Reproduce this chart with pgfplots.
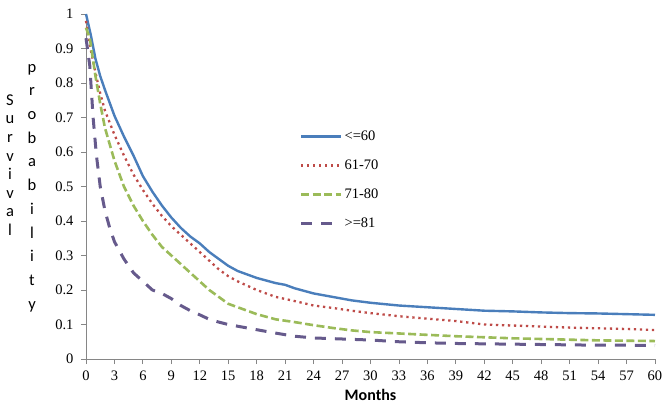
\documentclass[border=0pt]{standalone}
\usepackage{fontspec}
\setmainfont{Liberation Serif}
\newfontfamily\calfont{Carlito}
\usepackage{pgfplots}
\pgfplotsset{compat=1.18}
\definecolor{cblue}{HTML}{4A7EBB}
\definecolor{cred}{HTML}{BE4B48}
\definecolor{cgreen}{HTML}{9BBB59}
\definecolor{cpurple}{HTML}{665A8C}
\definecolor{caxis}{HTML}{868686}
\begin{document}
\begin{tikzpicture}
\begin{axis}[
  scale only axis,
  width=569pt, height=345pt,
  xmin=0, xmax=60, ymin=0, ymax=1,
  axis x line=bottom, axis y line=left,
  axis line style={-, draw=caxis, line width=0.8pt},
  every outer x axis line/.append style={-},
  every outer y axis line/.append style={-},
  xtick={0,3,...,60},
  ytick={0,0.1,0.2,0.3,0.4,0.5,0.6,0.7,0.8,0.9,1},
  yticklabels={0,0.1,0.2,0.3,0.4,0.5,0.6,0.7,0.8,0.9,1},
  tick align=outside,
  major tick length=5pt,
  tick style={draw=caxis, line width=0.8pt},
  /pgf/number format/assume math mode=true,
  ticklabel style={font=\fontsize{14.5}{16}\selectfont},
  xticklabel style={yshift=-3pt},
  yticklabel style={xshift=-4pt},
  xlabel={Months},
  xlabel style={at={(rel axis cs:0.5,0)}, anchor=center, yshift=-36pt, font=\calfont\bfseries\fontsize{16}{18}\selectfont},
  clip=false,
  legend style={draw=none, fill=none, at={(rel axis cs:0.375,0.668)}, anchor=north west,
    font=\fontsize{14.5}{16}\selectfont, row sep=14pt, inner sep=0pt},
  legend cell align=left,
  legend image code/.code={\draw[#1] (0pt,0pt) -- (40pt,0pt);},
]
\addplot[cblue, line width=2.4pt] coordinates {
(0,1.0) (0.5,0.94) (1,0.87) (1.5,0.82) (2,0.78) (3,0.705) (4,0.645) (5,0.59) (6,0.53) (7,0.485) (8,0.445) (9,0.41) (10,0.38) (11,0.355) (12,0.335) (13,0.31) (14,0.29) (15,0.27) (16,0.255) (18,0.235) (20,0.22) (21,0.215) (22,0.205) (24,0.19) (26,0.18) (28,0.17) (30,0.163) (33,0.155) (36,0.15) (39,0.145) (42,0.14) (45,0.138) (48,0.135) (51,0.133) (54,0.132) (57,0.13) (60,0.128)};
\addlegendentry{<=60}
\addplot[cred, line width=2.3pt, dash pattern=on 2.3pt off 3.7pt] coordinates {
(0,0.98) (0.4,0.91) (1,0.83) (1.5,0.77) (2,0.72) (3,0.65) (4,0.59) (5,0.535) (6,0.49) (7,0.45) (8,0.415) (9,0.385) (10,0.36) (11,0.335) (12,0.31) (13,0.285) (14,0.26) (15,0.24) (16,0.225) (18,0.2) (20,0.18) (22,0.168) (24,0.155) (26,0.148) (28,0.14) (30,0.133) (33,0.124) (36,0.117) (39,0.11) (42,0.1) (45,0.097) (48,0.094) (51,0.091) (54,0.089) (57,0.087) (60,0.084)};
\addlegendentry{61-70}
\addplot[cgreen, line width=2.6pt, dash pattern=on 8pt off 3.5pt] coordinates {
(0,0.96) (0.4,0.93) (1,0.82) (1.5,0.74) (2,0.67) (3,0.575) (4,0.5) (5,0.445) (6,0.4) (7,0.36) (8,0.325) (9,0.3) (10,0.275) (11,0.25) (12,0.225) (13,0.2) (14,0.18) (15,0.16) (16,0.15) (18,0.13) (20,0.115) (22,0.107) (24,0.098) (26,0.09) (28,0.083) (30,0.078) (33,0.074) (36,0.07) (39,0.066) (42,0.063) (45,0.06) (48,0.058) (51,0.056) (54,0.054) (57,0.053) (60,0.052)};
\addlegendentry{71-80}
\addplot[cpurple, line width=3pt, dash pattern=on 11pt off 9pt] coordinates {
(0,0.93) (0.4,0.85) (0.75,0.7) (1.1,0.59) (1.5,0.5) (2,0.43) (2.5,0.38) (3,0.34) (4,0.29) (5,0.25) (6,0.225) (7,0.2) (8,0.19) (9,0.175) (10,0.155) (11,0.14) (12,0.128) (13,0.115) (14,0.107) (15,0.1) (16,0.095) (18,0.085) (20,0.075) (22,0.066) (24,0.061) (27,0.058) (30,0.055) (33,0.05) (36,0.047) (39,0.045) (42,0.044) (45,0.043) (48,0.042) (51,0.041) (54,0.04) (57,0.04) (60,0.039)};
\addlegendentry{>=81}
\end{axis}
\node[align=center, font=\calfont\fontsize{16.5}{18.6}\selectfont, inner sep=0pt] at (-76pt,194pt) {S\\u\\r\\v\\i\\v\\a\\l};
\node[align=center, font=\calfont\fontsize{16.5}{23.7}\selectfont, inner sep=0pt] at (-54pt,171pt) {p\\r\\o\\b\\a\\b\\i\\l\\i\\t\\y};
\pgfresetboundingbox
\path (-86pt,-46pt) rectangle (581pt,359pt);
\end{tikzpicture}
\end{document}
